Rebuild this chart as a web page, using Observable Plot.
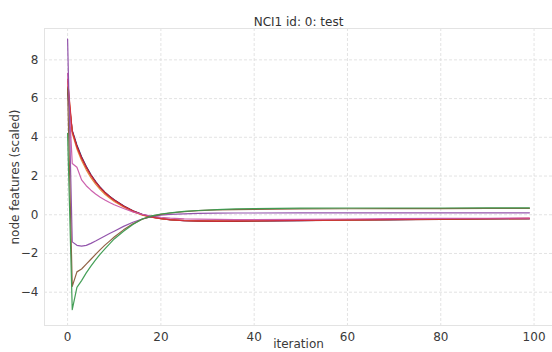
<!DOCTYPE html>
<html>
<head>
<meta charset="utf-8">
<script src="https://cdn.jsdelivr.net/npm/d3@7"></script>
<script src="https://cdn.jsdelivr.net/npm/@observablehq/plot@0.6"></script>
<style>
  html, body { margin: 0; padding: 0; background: #fff; }
  #chart svg { display: block; }
</style>
</head>
<body>
<div id="chart"></div>
<script>
const title = "NCI1 id: 0: test";
const xLabel = "iteration";
const yLabel = "node features (scaled)";
const xTicks = [0, 20, 40, 60, 80, 100];
const yTicks = [-4, -2, 0, 2, 4, 6, 8];

const iterations = [0,1,2,3,4,5,6,7,8,9,10,12,14,16,18,20,22,25,28,32,36,40,50,60,70,80,90,99];

const featureA = [6.3, 4.35, 3.6, 3.0, 2.5, 2.08, 1.72, 1.42, 1.17, 0.96, 0.78, 0.46, 0.21, 0.02, -0.11, -0.19, -0.25, -0.3, -0.32, -0.33, -0.33, -0.32, -0.3, -0.27, -0.25, -0.23, -0.21, -0.2];
const featureB = [6.6, 4.3, 3.55, 2.95, 2.46, 2.05, 1.7, 1.4, 1.15, 0.94, 0.76, 0.45, 0.2, 0.01, -0.12, -0.2, -0.26, -0.31, -0.33, -0.34, -0.34, -0.33, -0.31, -0.28, -0.26, -0.24, -0.22, -0.21];
const featureC = [6.9, 4.2, 3.4, 2.8, 2.32, 1.92, 1.58, 1.3, 1.06, 0.86, 0.69, 0.4, 0.16, -0.02, -0.13, -0.2, -0.25, -0.29, -0.31, -0.31, -0.31, -0.3, -0.28, -0.26, -0.24, -0.22, -0.2, -0.19];
const featureD = [7.0, 4.3, 3.5, 2.92, 2.44, 2.03, 1.68, 1.39, 1.14, 0.93, 0.75, 0.44, 0.19, 0.0, -0.12, -0.2, -0.25, -0.3, -0.32, -0.33, -0.32, -0.31, -0.29, -0.26, -0.24, -0.22, -0.2, -0.19];
const featureE = [7.3, 2.65, 2.45, 1.8, 1.5, 1.27, 1.07, 0.9, 0.76, 0.63, 0.52, 0.32, 0.15, 0.02, -0.07, -0.13, -0.17, -0.21, -0.23, -0.24, -0.25, -0.25, -0.24, -0.22, -0.2, -0.19, -0.18, -0.17];
const featureF = [9.07, -1.4, -1.58, -1.62, -1.58, -1.48, -1.36, -1.23, -1.1, -0.97, -0.85, -0.6, -0.39, -0.22, -0.1, -0.02, 0.02, 0.05, 0.07, 0.08, 0.09, 0.09, 0.1, 0.1, 0.1, 0.1, 0.1, 0.1];
const featureG = [6.5, -3.7, -2.95, -2.8, -2.55, -2.3, -2.05, -1.8, -1.57, -1.36, -1.15, -0.78, -0.47, -0.23, -0.08, 0.02, 0.09, 0.16, 0.21, 0.25, 0.27, 0.28, 0.3, 0.31, 0.32, 0.32, 0.33, 0.33];
const featureH = [4.2, -4.9, -3.75, -3.4, -3.0, -2.65, -2.33, -2.03, -1.76, -1.5, -1.25, -0.85, -0.5, -0.22, -0.06, 0.04, 0.1, 0.17, 0.22, 0.27, 0.3, 0.32, 0.34, 0.35, 0.35, 0.35, 0.36, 0.36];

const seriesNames  = ["f1", "f2", "f3", "f4", "f5", "f6", "f7", "f8"];
const seriesValues = [featureA, featureB, featureC, featureD, featureE, featureF, featureG, featureH];
const seriesColors = ["#2b3a8f", "#8e1f1f", "#e08532", "#d3283b", "#c957a9", "#8d4ca8", "#8b5a3b", "#3a9a4e"];

const rows = [];
seriesNames.forEach((name, s) => {
  iterations.forEach((it, i) => rows.push({series: name, iteration: it, value: seriesValues[s][i]}));
});

const font = "DejaVu Sans, sans-serif";

const chart = Plot.plot({
  width: 552,
  height: 352,
  marginLeft: 44,
  marginRight: 0,
  marginTop: 28,
  marginBottom: 27,
  style: {fontFamily: font, fontSize: "12px", color: "#333", background: "#fff"},
  x: {domain: [-4.95, 103.95]},
  y: {domain: [-5.72, 9.62]},
  color: {type: "ordinal", domain: seriesNames, range: seriesColors},
  marks: [
    Plot.gridX(xTicks, {stroke: "#dcdcdc", strokeOpacity: 1, strokeDasharray: "3,2", strokeWidth: 0.8}),
    Plot.gridY(yTicks, {stroke: "#dcdcdc", strokeOpacity: 1, strokeDasharray: "3,2", strokeWidth: 0.8}),
    Plot.frame({stroke: "#e3e3e3", strokeWidth: 1}),
    Plot.axisX(xTicks, {tickSize: 0, tickPadding: 7, fontSize: 12, fill: "#3a3a3a",
      label: xLabel, labelAnchor: "center", labelArrow: "none", labelOffset: 22}),
    Plot.axisY(yTicks, {tickSize: 0, tickPadding: 6, fontSize: 12, fill: "#3a3a3a",
      label: yLabel, labelAnchor: "center", labelArrow: "none", labelOffset: 34}),
    Plot.lineY(rows, {x: "iteration", y: "value", z: "series", stroke: "series", strokeWidth: 1.2, strokeOpacity: 0.95}),
    Plot.text([title], {frameAnchor: "top", dy: -3, lineAnchor: "bottom", fontSize: 12, fill: "#333"})
  ]
});

document.getElementById("chart").appendChild(chart);
</script>
</body>
</html>
